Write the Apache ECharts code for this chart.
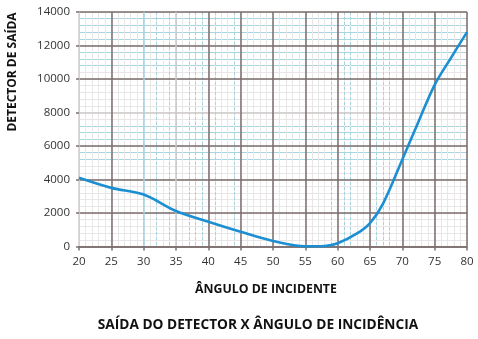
<!DOCTYPE html>
<html>
<head>
<meta charset="utf-8">
<script src="https://cdn.jsdelivr.net/npm/echarts@6/dist/echarts.min.js"></script>
<style>
  html, body { margin: 0; padding: 0; background: #fff; }
  #chart { width: 478px; height: 339px; }
</style>
</head>
<body>
<div id="chart"></div>
<script>
// Incidence angle (degrees) and detector output
const angles = [20, 25, 30, 35, 40, 45, 50, 55, 58, 60, 63, 65, 67, 70, 72, 75, 77.5, 80];
const output = [4100, 3500, 3100, 2120, 1480, 880, 330, 10, 30, 190, 780, 1400, 2550, 5200, 7000, 9650, 11250, 12800];

// Graph-paper ruling: which fine lines are tinted blue
const blueAngleLines = [30, 32, 34, 35, 37, 38, 39, 41, 44, 59, 61, 62, 66, 67, 68];
const blueOutputLines = [5200, 5600, 6400, 6800, 7200, 10800, 11200, 11600, 12400, 12800, 13200, 13600];
const lightMajorAngles = [20, 30, 35];
const lightMajorOutputs = [8000];

const xMin = 20, xMax = 80, yMin = 0, yMax = 14000;
const FONT = '"Open Sans", "Liberation Sans", sans-serif';
const DARK = '#7b6d6d';
const LIGHT = '#cfcaca';
const GRAY = '#e8e6e6';
const BLUE = '#a6d4df';
const NONE = 'rgba(0,0,0,0)';

function lineColors(min, max, step, fn) {
  const out = [];
  for (let v = min; v <= max + 1e-9; v += step) out.push(fn(Math.round(v)));
  return out;
}

const hiddenAxisParts = {
  axisLabel: { show: false }, axisLine: { show: false }, axisTick: { show: false }
};

const chart = echarts.init(document.getElementById('chart'), null, { renderer: 'canvas' });
chart.setOption({
  animation: false,
  backgroundColor: '#ffffff',
  grid: { left: 79, right: 11, top: 12, bottom: 92.5, containLabel: false, outerBoundsMode: 'none' },
  xAxis: [
    // fine gray rulings
    Object.assign({ type: 'value', position: 'top', min: xMin, max: xMax, interval: 1, z: 0,
      splitLine: { show: true, lineStyle: { width: 1, color: GRAY } } }, hiddenAxisParts),
    // fine blue dashed rulings
    Object.assign({ type: 'value', position: 'top', min: xMin, max: xMax, interval: 1, z: 0,
      splitLine: { show: true, lineStyle: { width: 1, type: [3, 2],
        color: lineColors(xMin, xMax, 1, v => blueAngleLines.includes(v) ? BLUE : NONE) } } }, hiddenAxisParts),
    // main angle axis
    { type: 'value', position: 'bottom', min: xMin, max: xMax, interval: 5, z: 1,
      axisLine: { show: true, onZero: false, lineStyle: { color: DARK, width: 1.5 } },
      axisTick: { show: true, length: 4, lineStyle: { color: DARK, width: 1.5 } },
      axisLabel: { color: '#333', fontSize: 11.5, fontFamily: FONT, margin: 9, formatter: v => String(v) },
      splitLine: { show: true, lineStyle: { width: 1.5,
        color: lineColors(xMin, xMax, 5, v => lightMajorAngles.includes(v) ? (v === 30 ? BLUE : LIGHT) : DARK) } } }
  ],
  yAxis: [
    Object.assign({ type: 'value', position: 'right', min: yMin, max: yMax, interval: 400, z: 0,
      splitLine: { show: true, lineStyle: { width: 1,
        color: lineColors(yMin, yMax, 400, v => blueOutputLines.includes(v) ? BLUE : GRAY) } } }, hiddenAxisParts),
    // main output axis
    { type: 'value', position: 'left', min: yMin, max: yMax, interval: 2000, z: 1,
      axisLine: { show: false },
      axisTick: { show: true, length: 3, lineStyle: { color: DARK, width: 1.5 } },
      axisLabel: { color: '#333', fontSize: 11.5, fontFamily: FONT, margin: 9, formatter: v => String(v) },
      splitLine: { show: true, lineStyle: { width: 1.5,
        color: lineColors(yMin, yMax, 2000, v => lightMajorOutputs.includes(v) ? LIGHT : DARK) } } }
  ],
  series: [{
    type: 'line',
    xAxisIndex: 2,
    yAxisIndex: 1,
    data: angles.map((a, i) => [a, output[i]]),
    smooth: 0.35,
    showSymbol: false,
    z: 5,
    lineStyle: { color: '#1b8fd2', width: 2.6 }
  }],
  graphic: [
    { type: 'text', z: 10, x: 266, y: 289,
      style: { text: 'ÂNGULO DE INCIDENTE', font: 'bold 12.3px ' + FONT, fill: '#111',
        textAlign: 'center', textVerticalAlign: 'middle' } },
    { type: 'text', z: 10, x: 13, y: 72, rotation: Math.PI / 2,
      style: { text: 'DETECTOR DE SAÍDA', font: 'bold 12px ' + FONT, fill: '#111',
        textAlign: 'center', textVerticalAlign: 'middle' } },
    { type: 'text', z: 10, x: 258, y: 325,
      style: { text: 'SAÍDA DO DETECTOR X ÂNGULO DE INCIDÊNCIA', font: 'bold 13.7px ' + FONT, fill: '#111',
        textAlign: 'center', textVerticalAlign: 'middle' } }
  ]
});
</script>
</body>
</html>
